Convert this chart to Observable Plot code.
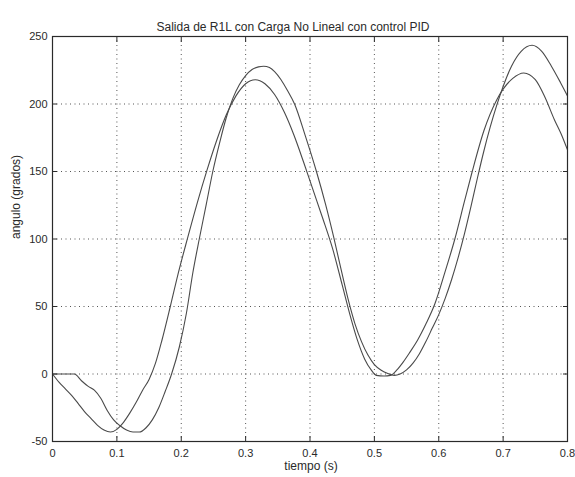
<!DOCTYPE html>
<html>
<head>
<meta charset="utf-8">
<script src="https://cdn.jsdelivr.net/npm/d3@7"></script>
<script src="https://cdn.jsdelivr.net/npm/@observablehq/plot@0.6"></script>
<style>
  html, body { margin: 0; padding: 0; background: #fff; }
  #chart { width: 575px; height: 477px; overflow: hidden; }
</style>
</head>
<body>
<div id="chart"></div>
<script>
// Curve A (starts descending at t = 0)
const tA = [0, 0.01, 0.02, 0.03, 0.04, 0.05, 0.06, 0.07, 0.08, 0.09, 0.1, 0.11, 0.12, 0.13, 0.14, 0.15, 0.16, 0.17, 0.183, 0.195, 0.21, 0.225, 0.24, 0.255, 0.27, 0.285, 0.3, 0.315, 0.33, 0.345, 0.36, 0.375, 0.39, 0.405, 0.42, 0.435, 0.45, 0.462, 0.473, 0.485, 0.495, 0.503, 0.515, 0.525, 0.535, 0.545, 0.555, 0.567, 0.58, 0.594, 0.61, 0.625, 0.64, 0.652, 0.67, 0.69, 0.7, 0.715, 0.732, 0.75, 0.765, 0.78, 0.79, 0.8];
const angA = [0, -6, -11, -16, -22, -28, -33, -38, -41.5, -43, -41, -36, -29, -21, -12, -4, 8, 25, 50, 74, 101, 127, 151, 173, 192, 206, 215, 218, 215, 207, 194, 177, 157, 136, 115, 93, 66, 44, 26, 11, 3, -1, -1.5, -1, 3, 9, 16, 25, 37, 52, 76, 100, 128, 150, 180, 203, 211, 219, 223, 218, 205, 188, 178, 166];

// Curve B (flat at 0, then delayed)
const tB = [0, 0.034, 0.045, 0.055, 0.065, 0.075, 0.085, 0.095, 0.104, 0.115, 0.125, 0.135, 0.145, 0.155, 0.165, 0.175, 0.185, 0.197, 0.208, 0.218, 0.228, 0.239, 0.249, 0.26, 0.27, 0.28, 0.29, 0.3, 0.31, 0.32, 0.328, 0.337, 0.345, 0.355, 0.365, 0.376, 0.393, 0.41, 0.424, 0.437, 0.449, 0.46, 0.47, 0.48, 0.49, 0.5, 0.51, 0.52, 0.531, 0.54, 0.55, 0.56, 0.57, 0.58, 0.59, 0.6, 0.61, 0.62, 0.63, 0.64, 0.65, 0.66, 0.67, 0.68, 0.69, 0.7, 0.713, 0.728, 0.745, 0.76, 0.775, 0.789, 0.8];
const angB = [0, 0, -5, -9, -12, -18, -27, -34, -38, -41.5, -43, -43, -40, -34, -25, -13, 0, 20, 45, 75, 100, 126, 150, 172, 190, 204, 214, 221, 225.5, 227.5, 228, 227, 224, 218, 210, 200, 176, 150, 126, 101, 76, 54, 37, 24, 14, 7, 3, 0.5, -1, 0, 3, 8, 15, 24, 34, 44, 56, 70, 86, 104, 124, 145, 165, 183, 199, 213, 228, 239, 243.5, 239, 228, 216, 206];

const xTicks = [0, 0.1, 0.2, 0.3, 0.4, 0.5, 0.6, 0.7, 0.8];
const yTicks = [-50, 0, 50, 100, 150, 200, 250];

const titleText = "Salida de R1L con Carga No Lineal con control PID";
const xLabelText = "tiempo (s)";
const yLabelText = "angulo (grados)";

const dataA = tA.map((t, i) => ({t, v: angA[i]}));
const dataB = tB.map((t, i) => ({t, v: angB[i]}));

const ink = "#2a2a2a";
const lineInk = "#4a4a4a";
const gridStyle = {stroke: ink, strokeWidth: 1, strokeOpacity: 0.8, strokeDasharray: "1,3.5"};

const chart = Plot.plot({
  width: 575,
  height: 477,
  marginLeft: 52,
  marginRight: 8,
  marginTop: 36,
  marginBottom: 36,
  style: {fontFamily: "'Liberation Sans', Arial, sans-serif", fontSize: "11px", background: "#fff", color: ink, overflow: "visible"},
  x: {domain: [0, 0.8]},
  y: {domain: [-50, 250]},
  marks: [
    Plot.gridX(xTicks.slice(1, -1), gridStyle),
    Plot.gridY(yTicks.slice(1, -1), gridStyle),
    Plot.line(dataA, {x: "t", y: "v", stroke: lineInk, strokeWidth: 1.1, curve: "monotone-x"}),
    Plot.line(dataB, {x: "t", y: "v", stroke: lineInk, strokeWidth: 1.1, curve: "monotone-x"}),
    Plot.frame({stroke: ink, strokeWidth: 1.2}),
    Plot.axisX(xTicks, {anchor: "bottom", tickSize: -5, tickPadding: 13, tickFormat: d => String(d), label: null, stroke: ink}),
    Plot.axisX(xTicks, {anchor: "top", tickSize: -5, tickFormat: () => "", label: null, stroke: ink}),
    Plot.axisY(yTicks, {anchor: "left", tickSize: -5, tickPadding: 10, tickFormat: d => String(d), label: null, stroke: ink}),
    Plot.axisY(yTicks, {anchor: "right", tickSize: -5, tickFormat: () => "", label: null, stroke: ink}),
    Plot.text([titleText], {text: d => d, frameAnchor: "top", dy: -14, dx: -17, fontSize: 12, fill: ink}),
    Plot.text([xLabelText], {text: d => d, frameAnchor: "bottom", dy: 28, dx: 1, fontSize: 12, fill: ink}),
    Plot.text([yLabelText], {text: d => d, frameAnchor: "left", rotate: -90, dx: -36, fontSize: 12, fill: ink})
  ]
});
document.getElementById("chart").appendChild(chart);
</script>
</body>
</html>
